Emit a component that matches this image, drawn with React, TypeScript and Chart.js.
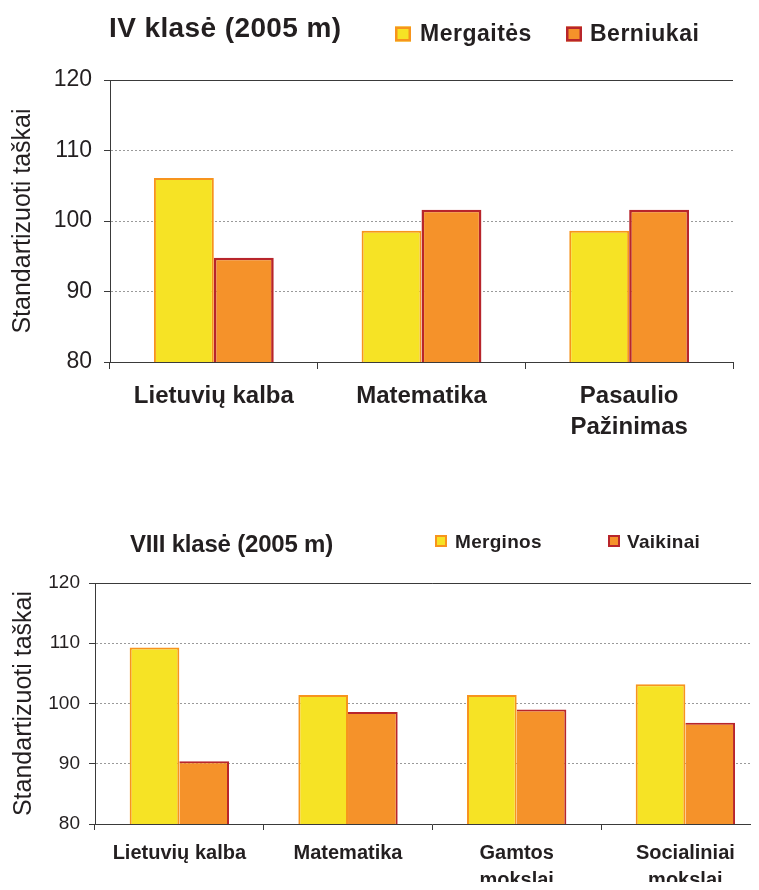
import React, { useEffect, useRef } from 'react';
import { Chart, registerables } from 'chart.js';

Chart.register(...registerables);

const FONT = "'Liberation Sans', Arial, Helvetica, sans-serif";
const TEXT = '#231F20';
const AXIS = '#3a3a3a';
const GRID = '#9a9a9a';
const YELLOW = '#F6E325';
const YELLOW_BORDER = '#F7941D';
const ORANGE = '#F5922A';
const ORANGE_BORDER = '#B8252B';

// ---- data ----
const yTicks = [80, 90, 100, 110, 120];
const yAxisTitle = 'Standartizuoti taškai';

const title4 = 'IV klasė (2005 m)';
const categories4: (string | string[])[] = ['Lietuvių kalba', 'Matematika', ['Pasaulio', 'Pažinimas']];
const seriesLabels4 = ['Mergaitės', 'Berniukai'];
const girls4 = [106.1, 98.6, 98.6];
const boys4 = [94.8, 101.6, 101.6];

const title8 = 'VIII klasė (2005 m)';
const categories8: (string | string[])[] = ['Lietuvių kalba', 'Matematika', ['Gamtos', 'mokslai'], ['Socialiniai', 'mokslai']];
const seriesLabels8 = ['Merginos', 'Vaikinai'];
const girls8 = [109.3, 101.4, 101.4, 103.2];
const boys8 = [90.4, 98.6, 99.0, 96.8];

type Spec = {
  w: number; h: number; top: number;
  area: { left: number; top: number; right: number; bottom: number };
  title: string; categories: (string | string[])[]; labels: string[]; girls: number[]; boys: number[];
  catPct: number; girlBorder: number; boyBorder: number; boySkip: any;
  xFont: number; xLineHeight: number; xPad: number; xTickLen: number;
  yFont: number; yPad: number; yTickLen: number; yTitleSize: number; yTitlePad: number;
  header: {
    titleX: number; titleY: number; titleFont: string; titleSpacing: number;
    boxX: number[]; boxY: number; boxW: number; boxH: number; boxBorder: number;
    textX: number[]; textY: number; textSize: number; textSpacing: number;
  };
};

const spec4: Spec = {
  w: 759, h: 450, top: 0,
  area: { left: 110, top: 80, right: 733, bottom: 362 },
  title: title4, categories: categories4, labels: seriesLabels4, girls: girls4, boys: boys4,
  catPct: 0.577, girlBorder: 2, boyBorder: 2.6, boySkip: false,
  xFont: 24, xLineHeight: 1.3, xPad: 12, xTickLen: 7,
  yFont: 23, yPad: 12, yTickLen: 6, yTitleSize: 25, yTitlePad: 8,
  header: {
    titleX: 109, titleY: 37, titleFont: `bold 28px ${FONT}`, titleSpacing: 0.4,
    boxX: [395, 566], boxY: 26.5, boxW: 16, boxH: 15, boxBorder: 2.5,
    textX: [420, 590], textY: 41, textSize: 23, textSpacing: 0.5,
  },
};

const spec8: Spec = {
  w: 780, h: 390, top: 500,
  area: { left: 95, top: 83, right: 769.7, bottom: 324 },
  title: title8, categories: categories8, labels: seriesLabels8, girls: girls8, boys: boys8,
  catPct: 0.589, girlBorder: 2, boyBorder: 2, boySkip: 'left',
  xFont: 20, xLineHeight: 1.35, xPad: 10, xTickLen: 6,
  yFont: 19, yPad: 9, yTickLen: 6, yTitleSize: 25, yTitlePad: 9,
  header: {
    titleX: 130, titleY: 51.5, titleFont: `bold 24px ${FONT}`, titleSpacing: -0.2,
    boxX: [435, 608], boxY: 35, boxW: 12, boxH: 12, boxBorder: 2,
    textX: [455, 627], textY: 47.7, textSize: 19, textSpacing: 0.3,
  },
};

function headerPlugin(s: Spec) {
  const h = s.header;
  return {
    id: 'header',
    afterDraw(chart: any) {
      const ctx = chart.ctx as CanvasRenderingContext2D;
      ctx.save();
      ctx.textAlign = 'left';
      ctx.textBaseline = 'alphabetic';
      ctx.fillStyle = TEXT;
      ctx.font = h.titleFont;
      (ctx as any).letterSpacing = `${h.titleSpacing}px`;
      ctx.fillText(s.title, h.titleX, h.titleY);
      chart.data.datasets.forEach((ds: any, i: number) => {
        const bx = h.boxX[i];
        const lw = h.boxBorder;
        ctx.fillStyle = ds.backgroundColor;
        ctx.fillRect(bx, h.boxY, h.boxW, h.boxH);
        ctx.strokeStyle = ds.borderColor;
        ctx.lineWidth = lw;
        ctx.strokeRect(bx + lw / 2, h.boxY + lw / 2, h.boxW - lw, h.boxH - lw);
        ctx.fillStyle = TEXT;
        ctx.font = `bold ${h.textSize}px ${FONT}`;
        (ctx as any).letterSpacing = `${h.textSpacing}px`;
        ctx.fillText(ds.label, h.textX[i], h.textY);
      });
      ctx.restore();
    },
  };
}

function buildConfig(s: Spec): any {
  const yMin = yTicks[0];
  const yMax = yTicks[yTicks.length - 1];
  return {
    type: 'bar',
    data: {
      labels: s.categories,
      datasets: [
        {
          label: s.labels[0], data: s.girls,
          backgroundColor: YELLOW, borderColor: YELLOW_BORDER, borderWidth: s.girlBorder,
          borderSkipped: false, barPercentage: 1, categoryPercentage: s.catPct,
        },
        {
          label: s.labels[1], data: s.boys,
          backgroundColor: ORANGE, borderColor: ORANGE_BORDER, borderWidth: s.boyBorder,
          borderSkipped: s.boySkip, barPercentage: 1, categoryPercentage: s.catPct,
        },
      ],
    },
    options: {
      responsive: false,
      animation: false,
      events: [],
      layout: { padding: { top: s.area.top, left: 0, right: s.w - s.area.right, bottom: 0 } },
      plugins: { legend: { display: false }, tooltip: { enabled: false }, title: { display: false } },
      scales: {
        x: {
          offset: true,
          grid: { display: true, drawOnChartArea: false, drawTicks: true, tickLength: s.xTickLen, tickColor: AXIS, offset: true },
          border: { display: true, color: AXIS, width: 1 },
          ticks: {
            color: TEXT, padding: s.xPad, maxRotation: 0, minRotation: 0, autoSkip: false,
            font: { family: FONT, size: s.xFont, weight: 'bold', lineHeight: s.xLineHeight },
          },
          afterFit: (sc: any) => { sc.height = s.h - s.area.bottom; },
        },
        y: {
          min: yMin, max: yMax,
          ticks: {
            stepSize: yTicks[1] - yTicks[0], color: TEXT, padding: s.yPad,
            font: { family: FONT, size: s.yFont },
          },
          grid: {
            color: (c: any) => (c.tick && c.tick.value === yMax ? AXIS : c.tick && c.tick.value === yMin ? 'rgba(0,0,0,0)' : GRID),
            lineWidth: 1, tickColor: AXIS, tickLength: s.yTickLen, drawTicks: true,
          },
          border: {
            display: true, color: AXIS, width: 1,
            dash: (c: any) => (c.tick && c.tick.value !== yMax ? [2, 2] : []),
          },
          title: {
            display: true, text: yAxisTitle, color: TEXT,
            font: { family: FONT, size: s.yTitleSize, lineHeight: 1.2 },
            padding: { top: s.yTitlePad, bottom: 0 },
          },
          afterFit: (sc: any) => { sc.width = s.area.left; },
        },
      },
    },
    plugins: [headerPlugin(s)],
  };
}

function ChartCanvas({ spec }: { spec: Spec }) {
  const ref = useRef<HTMLCanvasElement | null>(null);
  useEffect(() => {
    if (!ref.current) return;
    const chart = new Chart(ref.current, buildConfig(spec));
    return () => chart.destroy();
  }, [spec]);
  return (
    <canvas
      ref={ref}
      width={spec.w}
      height={spec.h}
      style={{ position: 'absolute', left: 0, top: spec.top, width: spec.w, height: spec.h }}
    />
  );
}

export default function App() {
  return (
    <div style={{ position: 'relative', width: 759, height: 890, margin: -8, overflow: 'hidden', background: '#fff' }}>
      <ChartCanvas spec={spec4} />
      <ChartCanvas spec={spec8} />
    </div>
  );
}
